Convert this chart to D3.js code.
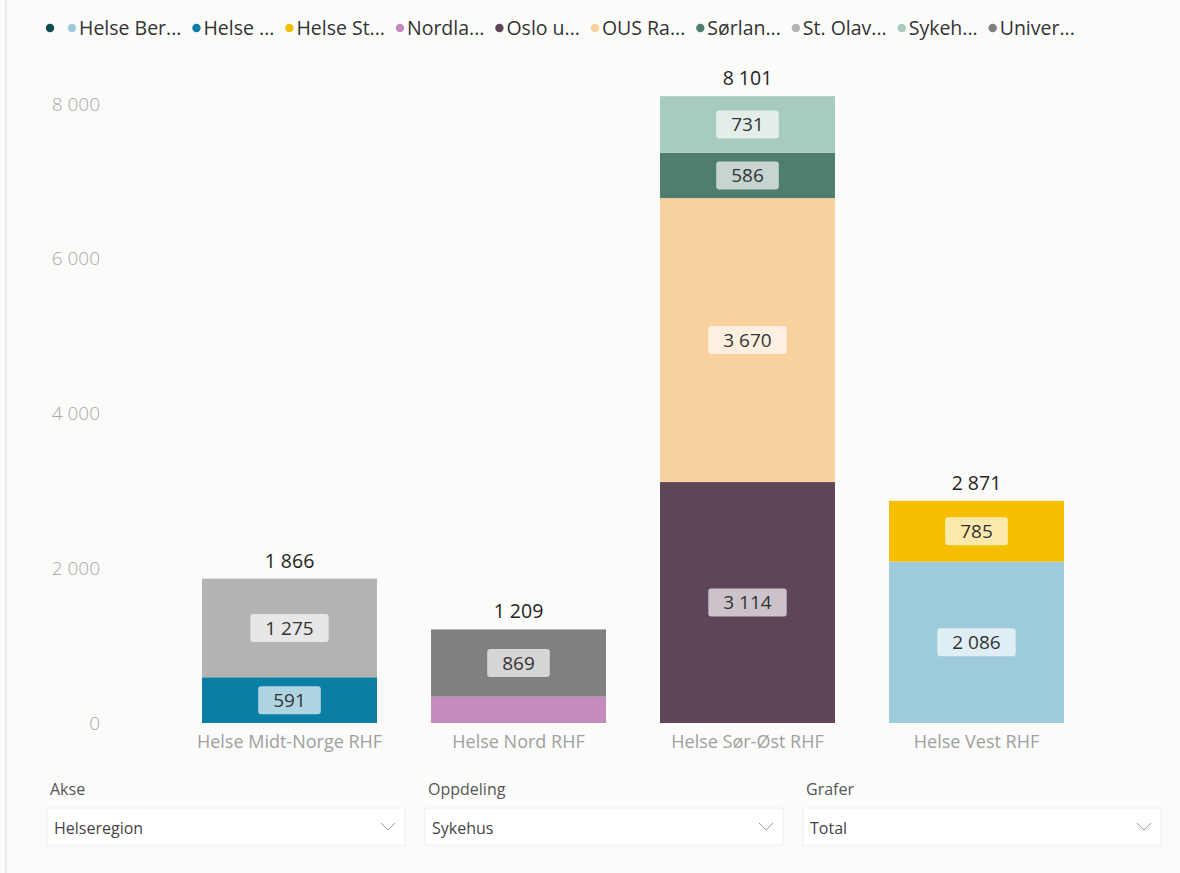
<head><script src="https://d3js.org/d3.v7.min.js"></script></head>
<body style="margin:0">
<svg id="chart" width="1180" height="873" style="display:block"></svg>
<script>
// Regions on the x axis
var regions = ["Helse Midt-Norge RHF", "Helse Nord RHF", "Helse Sør-Øst RHF", "Helse Vest RHF"];

// Hospitals (legend labels as shown, truncated)
var hospitals = ["", "Helse Ber...", "Helse ...", "Helse St...", "Nordla...", "Oslo u...",
                 "OUS Ra...", "Sørlan...", "St. Olav...", "Sykeh...", "Univer..."];
var hospitalColors = ["#0f4c4e", "#9dcbdb", "#0a7ea4", "#f5bf00", "#c58bbf", "#5e4558",
                      "#f7d19e", "#4f7e70", "#b3b3b3", "#a7cbc0", "#808080"];

// Values per hospital, one per region
var values = [
  [0, 0, 0, 0],
  [0, 0, 0, 2086],
  [591, 0, 0, 0],
  [0, 0, 0, 785],
  [0, 340, 0, 0],
  [0, 0, 3114, 0],
  [0, 0, 3670, 0],
  [0, 0, 586, 0],
  [1275, 0, 0, 0],
  [0, 0, 731, 0],
  [0, 869, 0, 0]
];

var yTicks = [0, 2000, 4000, 6000, 8000];

// Dropdown slicers under the chart
var slicerTitles = ["Akse", "Oppdeling", "Grafer"];
var slicerValues = ["Helseregion", "Sykehus", "Total"];

var font = "'Open Sans', 'Noto Sans', sans-serif";
var svg = d3.select("#chart");
var fmt = function(v) { return d3.format(",")(v).replace(/,/g, " "); };

svg.append("rect").attr("width", 1180).attr("height", 873).attr("fill", "#fbfcfa");
svg.append("line").attr("x1", 6).attr("x2", 6).attr("y1", 0).attr("y2", 873)
  .attr("stroke", "#e4e6e3").attr("stroke-width", 1.5);

// build table rows for the stack
var rows = regions.map(function(r, i) {
  var row = {region: r};
  hospitals.forEach(function(h, j) { row[h] = values[j][i]; });
  return row;
});
var series = d3.stack().keys(hospitals)(rows);
var totals = regions.map(function(r, i) { return d3.sum(values, function(v) { return v[i]; }); });

var x = d3.scaleBand().domain(regions).range([175, 1091]).paddingInner(0.236).paddingOuter(0.118);
var y = d3.scaleLinear().domain([0, 8000]).range([723, 104]);

// y axis
var yAxis = svg.append("g").attr("transform", "translate(100,0)")
  .call(d3.axisLeft(y).tickValues(yTicks).tickSize(0).tickPadding(0).tickFormat(fmt));
yAxis.select(".domain").remove();
yAxis.selectAll("text").style("font-family", font).style("font-size", "19px")
  .attr("fill", "#a8a8a8").style("font-weight", 300);

// x axis
var xAxis = svg.append("g").attr("transform", "translate(0,729)")
  .call(d3.axisBottom(x).tickSize(0).tickPadding(6));
xAxis.select(".domain").remove();
xAxis.selectAll("text").style("font-family", font).style("font-size", "18px").attr("fill", "#a0a0a0");

// bars
series.forEach(function(s, j) {
  svg.append("g").selectAll("rect").data(s).enter().append("rect")
    .attr("x", function(d) { return x(d.data.region); })
    .attr("width", x.bandwidth())
    .attr("y", function(d) { return y(d[1]); })
    .attr("height", function(d) { return y(d[0]) - y(d[1]); })
    .attr("fill", hospitalColors[j]);
});

// segment labels with white boxes
series.forEach(function(s) {
  s.forEach(function(d) {
    var v = d[1] - d[0];
    var h = y(d[0]) - y(d[1]);
    if (v <= 0 || h < 32) return;
    var cx = x(d.data.region) + x.bandwidth() / 2;
    var cy = (y(d[0]) + y(d[1])) / 2;
    var g = svg.append("g");
    var box = g.append("rect");
    var t = g.append("text").attr("x", cx).attr("y", cy).attr("dy", "0.35em")
      .attr("text-anchor", "middle").style("font-family", font).style("font-size", "19px")
      .attr("fill", "#333").text(fmt(v));
    var w = t.node().getComputedTextLength() + 30;
    box.attr("x", cx - w / 2).attr("y", cy - 14).attr("width", w).attr("height", 28)
      .attr("rx", 3).attr("fill", "#fff").attr("fill-opacity", 0.68);
  });
});

// totals above bars
svg.append("g").selectAll("text").data(regions).enter().append("text")
  .attr("x", function(d) { return x(d) + x.bandwidth() / 2; })
  .attr("y", function(d, i) { return y(totals[i]) - 11; })
  .attr("text-anchor", "middle").style("font-family", font).style("font-size", "19.5px")
  .attr("fill", "#252423").text(function(d, i) { return fmt(totals[i]); });

// legend
var lx = 50;
hospitals.forEach(function(h, j) {
  svg.append("circle").attr("cx", lx).attr("cy", 28).attr("r", 4.2).attr("fill", hospitalColors[j]);
  if (h === "") { lx += 22; return; }
  var t = svg.append("text").attr("x", lx + 7).attr("y", 28).attr("dy", "0.35em")
    .style("font-family", font).style("font-size", "19.5px").attr("fill", "#333").text(h);
  lx += 7 + t.node().getComputedTextLength() + 15;
});

// slicers
slicerTitles.forEach(function(title, i) {
  var sx = 47 + i * 378;
  svg.append("text").attr("x", sx + 3).attr("y", 789).attr("dy", "0.35em")
    .style("font-family", font).style("font-size", "16px").attr("fill", "#555").text(title);
  svg.append("rect").attr("x", sx).attr("y", 808).attr("width", 358).attr("height", 37)
    .attr("fill", "#fff").attr("stroke", "#eef0ee");
  svg.append("text").attr("x", sx + 7).attr("y", 828).attr("dy", "0.35em")
    .style("font-family", font).style("font-size", "16px").attr("fill", "#444").text(slicerValues[i]);
  svg.append("path").attr("d", "M" + (sx + 334) + ",823 l7,7 l7,-7")
    .attr("fill", "none").attr("stroke", "#999").attr("stroke-width", 1);
});
</script>
</body>
